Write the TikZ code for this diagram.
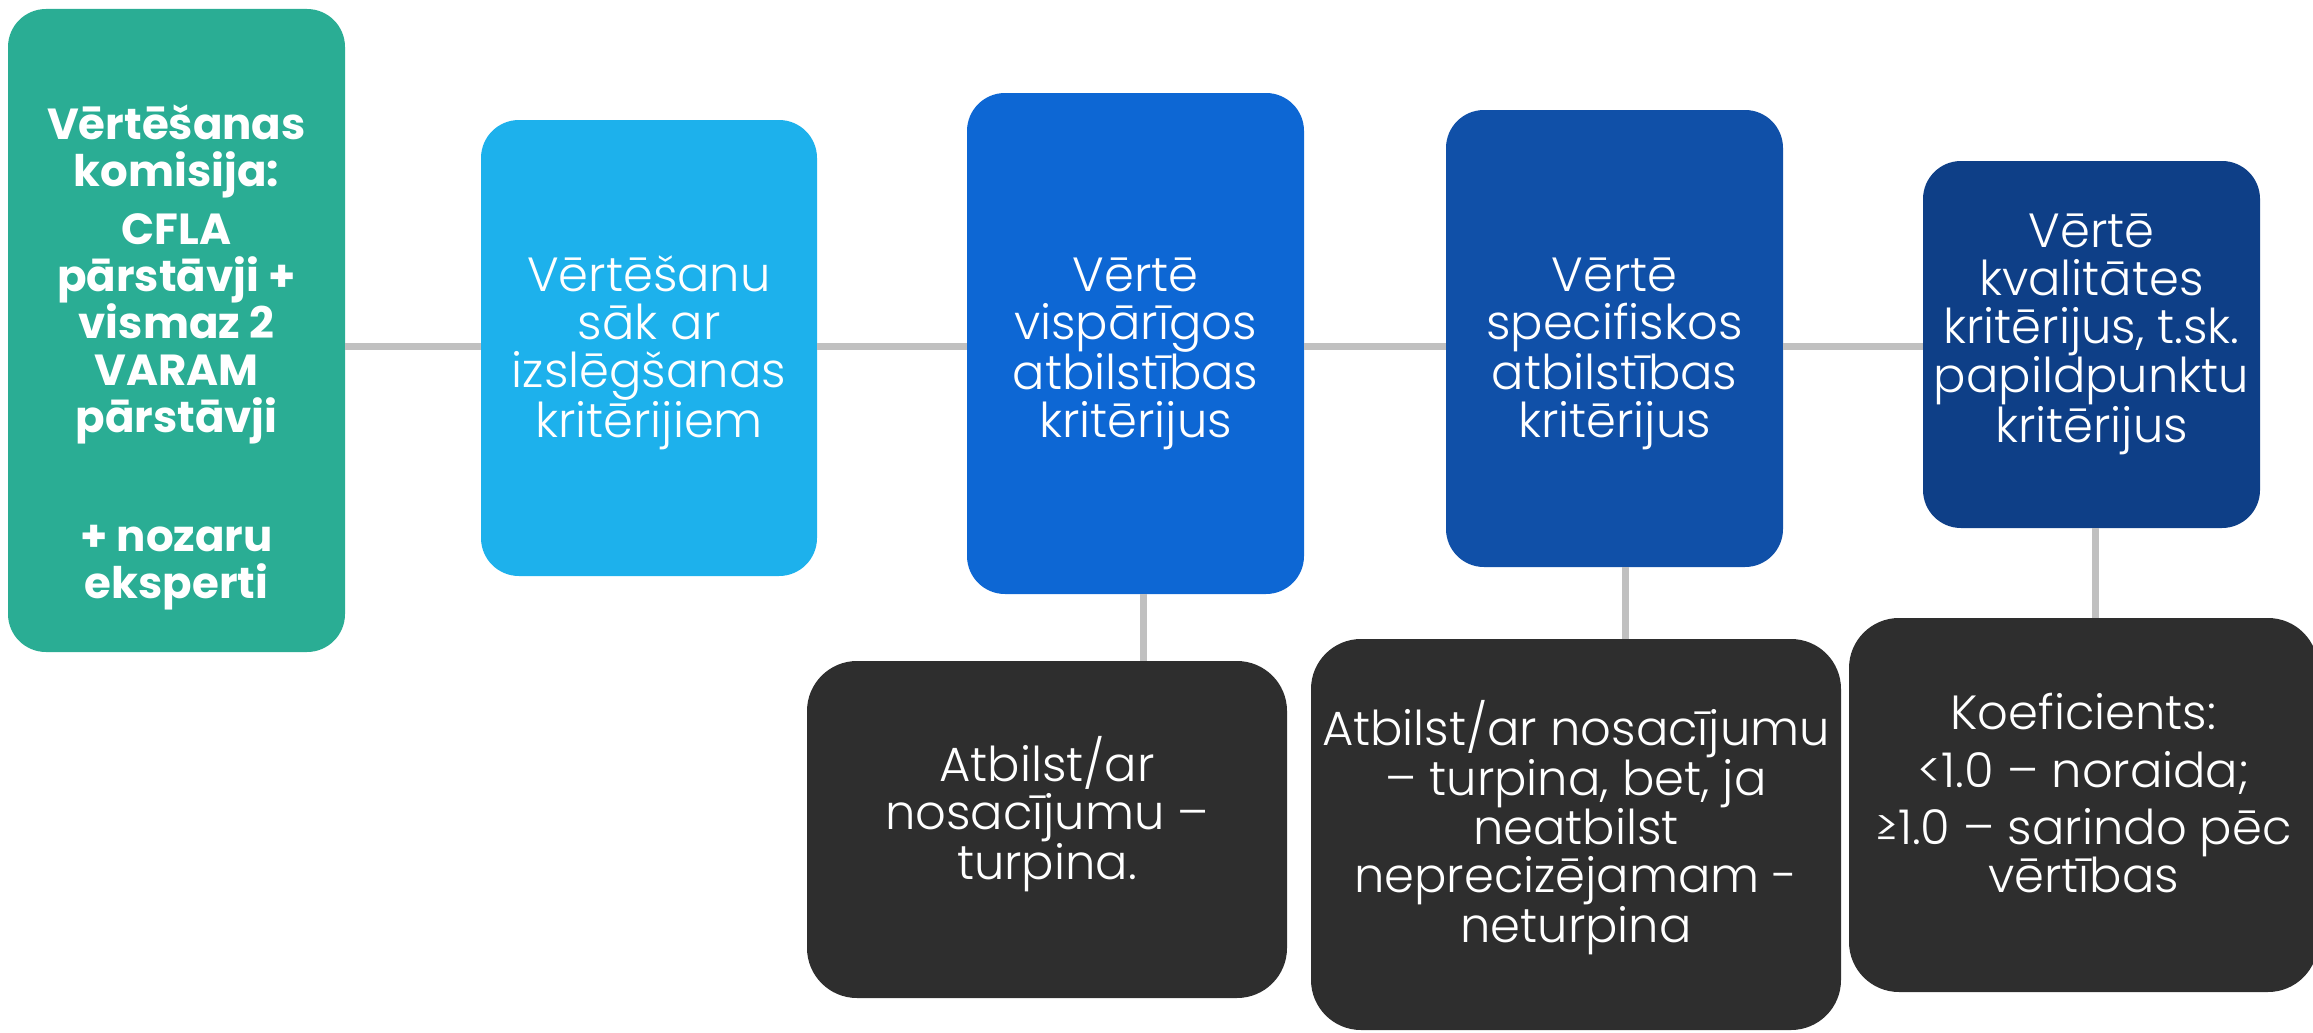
\documentclass[tikz,border=0pt]{standalone}
\usepackage{fontspec}
\setmainfont{Poppins}
\newfontfamily\lightfont{Poppins Light}
\definecolor{teamgreen}{HTML}{2AAD94}
\definecolor{stepA}{HTML}{1DB1EC}
\definecolor{stepB}{HTML}{0D67D4}
\definecolor{stepC}{HTML}{1050A8}
\definecolor{stepD}{HTML}{0E3F87}
\definecolor{darkbox}{HTML}{2E2E2E}
\definecolor{linegray}{HTML}{C0C0C0}
\tikzset{
  stage/.style={rectangle,rounded corners=38pt,inner sep=0pt},
  result/.style={stage,fill=darkbox,rounded corners=50pt},
  boxtext/.style={text=white,align=center,inner sep=0pt,anchor=base,
    font=\lightfont\fontsize{48}{48}\selectfont},
  conn/.style={draw=linegray,line width=7pt}
}

\begin{document}
\begin{tikzpicture}[x=1pt,y=-1pt]
\useasboundingbox (0,0) rectangle (2313,1033);

% boxes
\node[stage,fill=teamgreen,minimum width=337pt,minimum height=643pt] (team) at (176.5,330.5) {};
\node[stage,fill=stepA,minimum width=336pt,minimum height=456pt] (excl) at (649,348) {};
\node[stage,fill=stepB,minimum width=337pt,minimum height=501pt] (gen) at (1135.5,343.5) {};
\node[stage,fill=stepC,minimum width=337pt,minimum height=457pt] (spec) at (1614.5,338.5) {};
\node[stage,fill=stepD,minimum width=337pt,minimum height=367pt] (qual) at (2091.5,344.5) {};
\node[result,minimum width=480pt,minimum height=337pt] (res1) at (1047,829.5) {};
\node[result,minimum width=530pt,minimum height=391pt] (res2) at (1576,834.5) {};
\node[result,minimum width=469pt,minimum height=374pt] (res3) at (2083.5,805) {};

% texts, placed on the last baseline
\node[boxtext,font=\bfseries\fontsize{43.5}{47}\selectfont] (team-t) at (team |- 0,598) {
Vērtēšanas\\komisija:\\[11pt]CFLA\\pārstāvji +\\vismaz 2\\VARAM\\pārstāvji\\[72pt]+ nozaru\\eksperti
};
\node[boxtext] (excl-t) at (excl |- 0,437) {Vērtēšanu\\sāk ar\\izslēgšanas\\kritērijiem};
\node[boxtext] (gen-t) at (gen |- 0,437) {Vērtē\\vispārīgos\\atbilstības\\kritērijus};
\node[boxtext] (spec-t) at (spec |- 0,437) {Vērtē\\specifiskos\\atbilstības\\kritērijus};
\node[boxtext] (qual-t) at (qual |- 0,442) {Vērtē\\kvalitātes\\kritērijus, t.sk.\\papildpunktu\\kritērijus};
\node[boxtext] (res1-t) at (res1 |- 0,879) {Atbilst/ar\\nosacījumu –\\turpina.};
\node[boxtext] (res2-t) at (res2 |- 0,942) {Atbilst/ar nosacījumu\\– turpina, bet, ja\\neatbilst\\neprecizējamam -\\neturpina};
\node[boxtext] (res3-t) at (res3 |- 0,892) {Koeficients:\\[10pt]<1.0 – noraida;\\[9pt]≥1.0 – sarindo pēc\\vērtības};

% connectors
\coordinate (spine) at (0,346);
\coordinate (drop1) at (1143,0);
\coordinate (drop2) at (1625,0);
\coordinate (drop3) at (2095,0);
\draw[conn] (team.east |- spine) -- (excl.west |- spine);
\draw[conn] (excl.east |- spine) -- (gen.west |- spine);
\draw[conn] (gen.east |- spine) -- (spec.west |- spine);
\draw[conn] (spec.east |- spine) -- (qual.west |- spine);
\draw[conn] (gen.south -| drop1) -- (res1.north -| drop1);
\draw[conn] (spec.south -| drop2) -- (res2.north -| drop2);
\draw[conn] (qual.south -| drop3) -- (res3.north -| drop3);
\end{tikzpicture}
\end{document}
